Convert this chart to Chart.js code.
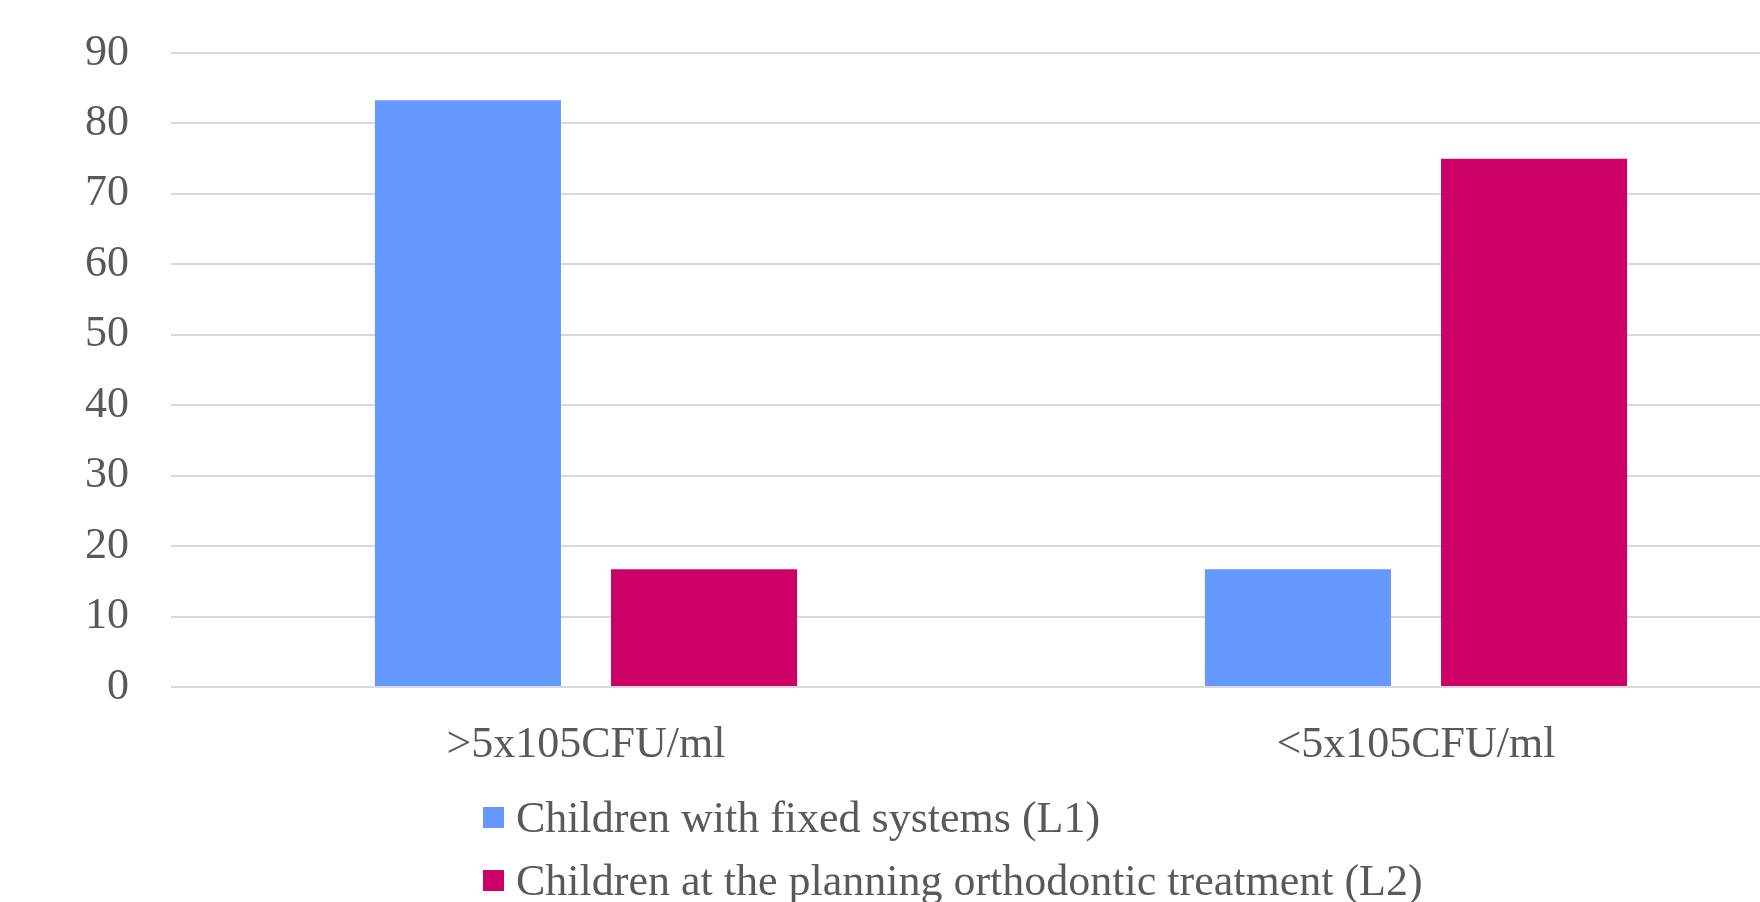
<!DOCTYPE html>
<html>
<head>
<meta charset="utf-8">
<script src="https://cdn.jsdelivr.net/npm/chart.js@4/dist/chart.umd.min.js"></script>
<style>
  html, body { margin: 0; padding: 0; background: #fff; overflow: hidden; }
  #wrap { position: relative; width: 1831px; height: 902px; }
  #legend { position: absolute; left: 483px; top: 786px; font-family: "Liberation Serif", serif; font-size: 44px; color: #595959; }
  #legend .item { display: flex; align-items: center; height: 63px; white-space: nowrap; }
  #legend .box { width: 21px; height: 21px; margin-right: 12px; }
</style>
</head>
<body>
<div id="wrap">
  <canvas id="c"></canvas>
  <div id="legend"></div>
</div>
<script>
const categories = [">5x105CFU/ml", "<5x105CFU/ml"];
const seriesNames = ["Children with fixed systems (L1)", "Children at the planning orthodontic treatment (L2)"];
const fixedSystems = [83.3, 16.7];
const planningTreatment = [16.7, 75];
const yTicks = [0, 10, 20, 30, 40, 50, 60, 70, 80, 90];
const seriesColors = ["#6699FF", "#CC0066"];

const font = { family: "'Liberation Serif', serif", size: 44 };

const chart = new Chart(document.getElementById("c"), {
  type: "bar",
  data: {
    labels: categories,
    datasets: [
      { label: seriesNames[0], data: fixedSystems, backgroundColor: seriesColors[0] },
      { label: seriesNames[1], data: planningTreatment, backgroundColor: seriesColors[1] }
    ]
  },
  options: {
    responsive: true,
    maintainAspectRatio: false,
    animation: false,
    layout: { padding: { top: 53, left: 0, right: 0, bottom: 0 } },
    datasets: { bar: { categoryPercentage: 0.569, barPercentage: 0.788 } },
    plugins: { legend: { display: false }, tooltip: { enabled: false } },
    scales: {
      x: {
        grid: { display: false },
        border: { display: false },
        ticks: { font: font, color: "#595959", padding: 24, maxRotation: 0 },
        afterFit: s => { s.height = 215; }
      },
      y: {
        min: yTicks[0],
        max: yTicks[yTicks.length - 1],
        afterBuildTicks: s => { s.ticks = yTicks.map(v => ({ value: v })); },
        grid: { color: "#d9d9d9", lineWidth: 2, drawTicks: false },
        border: { display: false },
        ticks: { font: font, color: "#595959", padding: 42 },
        // fixed axis width; no extra vertical overhang so the plot top follows layout padding
        afterFit: s => { s.width = 171; s.paddingTop = 0; s.paddingBottom = 0; }
      }
    }
  }
});

// HTML legend built from the chart's datasets, stacked one entry per row
const legendEl = document.getElementById("legend");
chart.data.datasets.forEach(ds => {
  const row = document.createElement("div");
  row.className = "item";
  const box = document.createElement("span");
  box.className = "box";
  box.style.background = ds.backgroundColor;
  const txt = document.createElement("span");
  txt.textContent = ds.label;
  row.appendChild(box);
  row.appendChild(txt);
  legendEl.appendChild(row);
});
</script>
</body>
</html>
